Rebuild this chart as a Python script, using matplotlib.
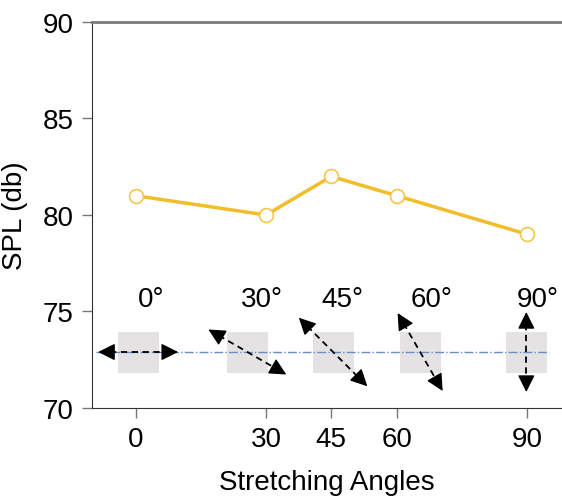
import numpy as np
import matplotlib.pyplot as plt
from matplotlib.patches import Rectangle

plt.rcParams['font.family'] = ['Liberation Sans', 'DejaVu Sans']

angles = [0, 30, 45, 60, 90]
spl = [81, 80, 82, 81, 79]

# stretching-direction sketches under the curve
sketch_x = [0.6, 25.7, 45.4, 65.4, 89.8]
sketch_len = [80, 90, 97, 90, 80]
label_x = [3.5, 29, 47.5, 68, 92.5]
angle_labels = ['0°', '30°', '45°', '60°', '90°']

fig = plt.figure(figsize=(5.62, 5.02), dpi=100)
ax = fig.add_axes([0.1637, 0.1853, 0.8363, 0.7689])

ax.set_xlim(-10, 98)
ax.set_ylim(70, 90)

base_y = 72.9
ax.plot([-9, 95], [base_y, base_y], ls='-.', color='#6d8cc6', lw=1, zorder=2)

# px -> data scale
px_x = (98 - (-10)) / (0.8363 * 562)
px_y = 20 / (0.7689 * 502)
head = 14  # arrow head length in px

for cx, a, L in zip(sketch_x, angles, sketch_len):
    w = 41 * px_x
    h = 41 * px_y
    ax.add_patch(Rectangle((cx - w / 2, base_y - h / 2), w, h,
                           facecolor='#e4e2e2', edgecolor='none', zorder=1))
    r = np.deg2rad(a)
    ux, uy = np.cos(r) * px_x, -np.sin(r) * px_y
    # dashed shaft
    s = L / 2 - head + 2
    ax.plot([cx - s * ux, cx + s * ux], [base_y - s * uy, base_y + s * uy],
            color='black', lw=1.3, ls=(0, (3.5, 2.5)), zorder=3)
    # solid heads at both ends
    for sign in (1, -1):
        tip = (cx + sign * L / 2 * ux, base_y + sign * L / 2 * uy)
        back = (cx + sign * (L / 2 - head) * ux, base_y + sign * (L / 2 - head) * uy)
        ax.annotate('', xy=tip, xytext=back,
                    arrowprops=dict(arrowstyle='-|>,head_length=0.8,head_width=0.4',
                                    mutation_scale=13, color='black', lw=1,
                                    shrinkA=0, shrinkB=0),
                    zorder=3)

for lx, t in zip(label_x, angle_labels):
    ax.text(lx, 75.65, t, ha='center', va='center', fontsize=20)

ax.plot(angles, spl, color='#f2bd2a', lw=2.5, marker='o', markersize=10,
        markerfacecolor='white', markeredgecolor='#f2c64a', markeredgewidth=1.2,
        zorder=4)

ax.set_xticks(angles)
ax.set_yticks([70, 75, 80, 85, 90])
ax.tick_params(direction='out', length=7, width=1, color='#777777',
               labelsize=20, pad=6)
ax.set_xlabel('Stretching Angles', fontsize=20, labelpad=12)
ax.set_ylabel('SPL (db)', fontsize=20)
ax.yaxis.set_label_coords(-0.136, 0.5)

ax.spines['right'].set_visible(False)
ax.spines['top'].set_color('#7a7a7a')
ax.spines['top'].set_linewidth(2)
ax.spines['left'].set_color('#333333')
ax.spines['bottom'].set_color('#333333')

fig.savefig('out.png', dpi=100)
